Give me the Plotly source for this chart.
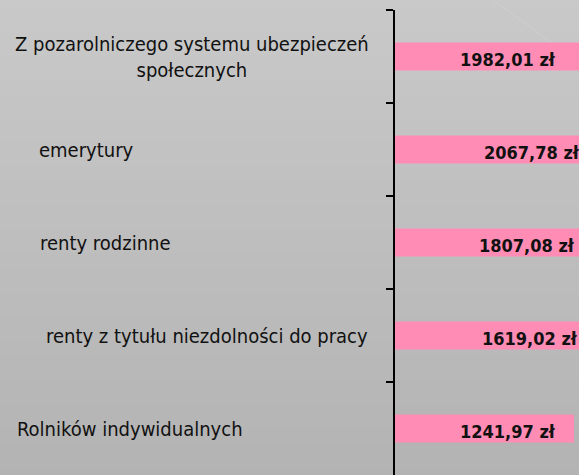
import plotly.graph_objects as go

categories = [
    "Z pozarolniczego systemu ubezpieczeń<br>społecznych",
    "emerytury",
    "renty rodzinne",
    "renty z tytułu niezdolności do pracy",
    "Rolników indywidualnych",
]
values = [1982.01, 2067.78, 1807.08, 1619.02, 1241.97]
value_labels = [f"{v:.2f}".replace(".", ",") + " zł" for v in values]

# layout / style (pixel positions of text in the figure)
W, H = 579, 475
ML, MT = 395, 10
PW = W - ML
cat_label_px = [192, 86, 105, 207, 130]
val_label_px = [508, 532, 527, 530, 508]
FONT = "DejaVu Sans Condensed, DejaVu Sans, sans-serif"

fig = go.Figure(
    go.Bar(
        x=values,
        y=categories,
        orientation="h",
        marker=dict(color="#ff8cb4", line=dict(width=0)),
        hoverinfo="skip",
    )
)

shapes = []
nb = 60
x0 = -ML / PW
for i in range(nb):
    ytop = 1 + MT / (H - MT) - i * (H / (H - MT)) / nb
    ybot = ytop - (H / (H - MT)) / nb
    ypix = (i + 0.5) * H / nb
    g = int(round(201 - 0.046 * ypix))
    shapes.append(dict(type="rect", xref="paper", yref="paper", x0=x0, x1=1.01,
                       y0=ybot - 0.002, y1=ytop, fillcolor=f"rgb({g},{g},{g})",
                       line=dict(width=0), layer="below"))
# faint streak at top right
shapes.append(dict(type="line", xref="paper", yref="paper",
                   x0=(493 - ML) / PW, y0=1 + MT / (H - MT),
                   x1=(552 - ML) / PW, y1=1 - (43 - MT) / (H - MT),
                   line=dict(color="rgb(206,206,206)", width=1), layer="below"))

annotations = []
for c, px in zip(categories, cat_label_px):
    annotations.append(dict(xref="paper", yref="y", x=(px - ML) / PW, y=c,
                            text=c, showarrow=False, xanchor="center",
                            align="center",
                            font=dict(family=FONT, size=20, color="#111111")))
for c, t, px in zip(categories, value_labels, val_label_px):
    annotations.append(dict(xref="paper", yref="y", x=(px - ML) / PW, y=c,
                            text=f"<b>{t}</b>", showarrow=False, xanchor="center",
                            yshift=-3,
                            font=dict(family=FONT, size=18, color="#111111")))

fig.update_layout(
    width=W, height=H,
    margin=dict(l=ML, r=0, t=MT, b=0, pad=0),
    paper_bgcolor="rgb(190,190,190)",
    plot_bgcolor="rgba(0,0,0,0)",
    bargap=0.7,
    showlegend=False,
    shapes=shapes,
    annotations=annotations,
    xaxis=dict(range=[0, 1277], visible=False, fixedrange=True),
    yaxis=dict(type="category", autorange="reversed", showticklabels=False,
               ticks="outside", tickson="boundaries", ticklen=7, tickwidth=2,
               tickcolor="black", showline=True, linewidth=2, linecolor="black",
               showgrid=False, zeroline=False, fixedrange=True),
)

fig.write_html(
    "out.html",
    config={"displayModeBar": False},
    post_script="document.body.style.margin='0';document.body.style.overflow='hidden';",
)
